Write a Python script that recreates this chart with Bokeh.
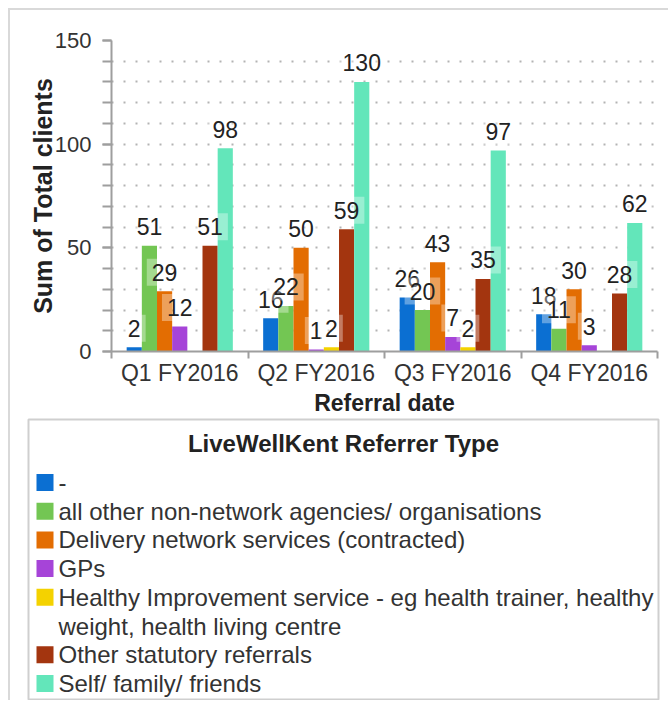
import textwrap
import numpy as np
from bokeh.plotting import figure
from bokeh.models import ColumnDataSource, Range1d, FixedTicker, Label
from bokeh.layouts import column
from bokeh.transform import dodge
from bokeh.embed import file_html
from bokeh.resources import INLINE
from bokeh.core.properties import value

# ---------------- data ----------------
quarters = ["Q1 FY2016", "Q2 FY2016", "Q3 FY2016", "Q4 FY2016"]
referrer_types = [
    "-",
    "all other non-network agencies/ organisations",
    "Delivery network services (contracted)",
    "GPs",
    "Healthy Improvement service - eg health trainer, healthy weight, health living centre",
    "Other statutory referrals",
    "Self/ family/ friends",
]
v_dash = [2, 16, 26, 18]
v_other_agencies = [51, 22, 20, 11]
v_delivery = [29, 50, 43, 30]
v_gps = [12, 1, 7, 3]
v_healthy = [None, 2, 2, None]
v_other_statutory = [51, 59, 35, 28]
v_self = [98, 130, 97, 62]
series_values = [v_dash, v_other_agencies, v_delivery, v_gps, v_healthy,
                 v_other_statutory, v_self]
colors = ["#0b6fd2", "#73c653", "#e36d02", "#a644d8", "#f4d200", "#a3350f", "#63e6ba"]

y_major_ticks = [0, 50, 100, 150]
y_minor_ticks = list(range(0, 151, 10))
y_grid_ticks = list(range(10, 150, 10))

FONT = "Liberation Sans"

# ---------------- chart ----------------
n_q = len(quarters)
n_s = len(referrer_types)
centers = np.arange(n_q) + 0.5
slot = 1.0 / (n_s + 2)

p = figure(width=658, height=408, x_range=Range1d(0, n_q), y_range=Range1d(0, 150),
           min_border_left=101, min_border_right=11, min_border_top=30,
           min_border_bottom=55, toolbar_location=None, output_backend="svg")
p.outline_line_color = None
p.background_fill_color = "white"
p.border_fill_color = "white"

for j, (vals, col) in enumerate(zip(series_values, colors)):
    off = (j - (n_s - 1) / 2) * slot
    tops = np.array([np.nan if v is None else v for v in vals], dtype=float)
    src = ColumnDataSource(dict(x=centers, top=tops))
    p.vbar(x=dodge("x", off, range=p.x_range), top="top", width=slot, bottom=0,
           source=src, fill_color=col, line_color=None)

for j, vals in enumerate(series_values):
    off = (j - (n_s - 1) / 2) * slot
    for i, v in enumerate(vals):
        if v is None:
            continue
        kw = dict(x=float(centers[i] + off), y=v, text=str(v), y_offset=19,
                  text_align="center", text_baseline="middle", text_font=FONT,
                  text_font_size="23px", text_color="#222222",
                  background_fill_color="white", background_fill_alpha=0.35)
        try:
            lab = Label(padding=5, **kw)
        except (AttributeError, ValueError):
            lab = Label(**kw)
        p.add_layout(lab)

# axes
p.xaxis.ticker = FixedTicker(ticks=list(centers), minor_ticks=list(range(n_q + 1)))
p.xaxis.major_label_overrides = {float(c): q for c, q in zip(centers, quarters)}
p.yaxis.ticker = FixedTicker(ticks=y_major_ticks, minor_ticks=y_minor_ticks)
p.xaxis.axis_label = "Referral date"
p.yaxis.axis_label = "Sum of Total clients"
for ax in (p.xaxis[0], p.yaxis[0]):
    ax.axis_line_color = "#9e9e9e"
    ax.axis_line_width = 2
    ax.major_tick_line_color = "#9e9e9e"
    ax.minor_tick_line_color = "#9e9e9e"
    ax.major_tick_line_width = 2
    ax.minor_tick_line_width = 2
    ax.major_tick_in = 0
    ax.minor_tick_in = 0
    ax.major_label_text_font = FONT
    ax.major_label_text_color = "#333333"
    ax.axis_label_text_font = FONT
    ax.axis_label_text_font_style = "bold"
    ax.axis_label_text_color = "#222222"
p.xaxis.major_tick_out = 0
p.xaxis.minor_tick_out = 7
p.xaxis.major_label_standoff = 1
p.xaxis.major_label_text_font_size = "23px"
p.xaxis.axis_label_standoff = 1
p.xaxis.axis_label_text_font_size = "23px"
p.yaxis.major_tick_out = 9
p.yaxis.minor_tick_out = 9
p.yaxis.major_label_standoff = 11
p.yaxis.major_label_text_font_size = "22px"
p.yaxis.axis_label_standoff = -5
p.yaxis.axis_label_text_font_size = "25px"

p.xgrid.visible = False
p.ygrid.ticker = FixedTicker(ticks=y_grid_ticks)
p.ygrid.grid_line_color = "#b3b3b3"
p.ygrid.grid_line_width = 2
p.ygrid.grid_line_dash = "2 10"

# ---------------- legend ----------------
LW, LH = 630, 280
leg = figure(width=658, height=282, x_range=Range1d(0, LW), y_range=Range1d(LH, 0),
             min_border_left=18, min_border_right=10, min_border_top=1,
             min_border_bottom=1, x_axis_location=None, y_axis_location=None,
             toolbar_location=None, output_backend="svg")
leg.grid.visible = False
leg.outline_line_color = "#cfcfcf"
leg.outline_line_width = 2
leg.border_fill_color = "white"
for fig in (p, leg):
    try:
        fig.frame_align = False
    except Exception:
        pass

leg.text(x=[LW / 2], y=[24], text=["LiveWellKent Referrer Type"], text_align="center",
         text_baseline="middle", text_font=value(FONT), text_font_style="bold",
         text_font_size="24px", text_color="#222222")

row0, step = 63, 28.7
sw_x, sw_y, sw_c = [], [], []
tx, ty, tt = [], [], []
r = 0
for name, col in zip(referrer_types, colors):
    lines = textwrap.wrap(name, 58) or [name]
    sw_x.append(16.5)
    sw_y.append(row0 + r * step)
    sw_c.append(col)
    for ln in lines:
        tx.append(30)
        ty.append(row0 + r * step)
        tt.append(ln)
        r += 1
leg.rect(x=sw_x, y=sw_y, width=17, height=17, fill_color=sw_c, line_color=None)
leg.text(x=tx, y=ty, text=tt, text_align="left", text_baseline="middle",
         text_font=value(FONT), text_font_size="24px", text_color="#333333")

layout = column(p, leg, styles={"border-top": "2px solid #d9d9d9",
                                "border-left": "2px solid #d9d9d9",
                                "margin-left": "8px", "margin-top": "8px"})

open("out.html", "w").write(file_html(layout, INLINE))
